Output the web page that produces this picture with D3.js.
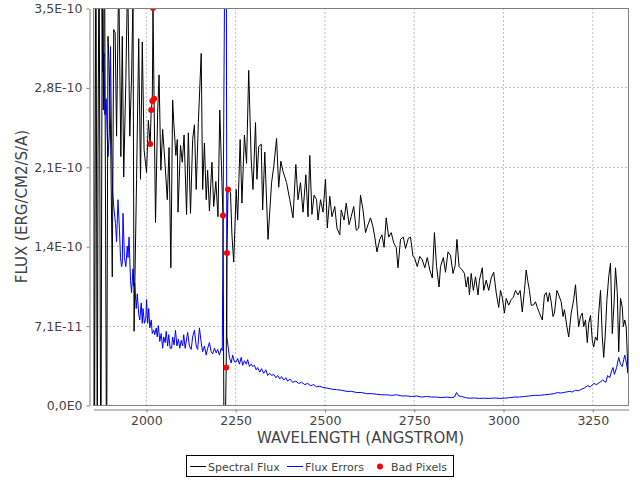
<!DOCTYPE html>
<html>
<head>
<meta charset="utf-8">
<script src="https://cdn.jsdelivr.net/npm/d3@7"></script>
<style>
  body { margin: 0; background: #fff; }
  svg { font-family: 'DejaVu Sans', sans-serif; }
</style>
</head>
<body>
<div id="chart"></div>
<script>
// values in units of 1e-10 erg/cm2/s/A, wavelength in angstrom
const FLUX_UNIT = 1e-10;

const spectralFlux = [
  [1853, 4.8], [1856, -0.8], [1860, 4.5], [1864, -0.6], [1866, 2.19], [1869, 4.2], [1874, -0.9],
  [1878, 3.9], [1881, 2.6], [1884, 4.3], [1890, -0.7], [1894, 3.25], [1897, 3.0], [1901, 2.43],
  [1906, 1.13], [1910, 3.31], [1914, 3.28], [1918, 2.37], [1924, 3.8], [1930, 2.19], [1934, 3.25],
  [1938, 2.01], [1944, 2.87], [1949, 3.8], [1955, 2.37], [1960, 2.9], [1964, 3.6], [1967, 0.65],
  [1974, 1.99], [1980, 3.23], [1985, 1.99], [1990, 3.2], [1995, 2.25], [2002, 2.05], [2007, 2.51],
  [2012, 2.30], [2015, 2.60], [2018, 2.68], [2020, 3.50], [2023, 2.70], [2027, 1.61], [2033, 2.58],
  [2037, 2.91], [2042, 2.07], [2047, 2.43], [2053, 2.16], [2060, 1.81], [2065, 2.27], [2070, 1.21],
  [2075, 2.69], [2078, 2.5], [2084, 2.2], [2088, 2.34], [2090, 1.7], [2097, 2.29], [2102, 2.14],
  [2107, 2.38], [2114, 1.68], [2119, 2.4], [2125, 1.69], [2131, 2.34], [2136, 2.47], [2141, 1.9],
  [2147, 2.49], [2155, 3.1], [2159, 1.9], [2164, 2.31], [2169, 1.81], [2173, 2.07], [2178, 1.71],
  [2185, 2.14], [2190, 1.75], [2196, 1.97], [2202, 1.66], [2207, 2.6], [2213, 1.96], [2216, 1.67],
  [2219, -0.5], [2222, -0.3], [2225, 0.33], [2227, 1.34], [2230, 1.90], [2237, 1.87], [2241, 1.5],
  [2246, 1.26], [2253, 1.9], [2257, 1.63], [2264, 2.34], [2269, 1.78], [2276, 2.38], [2282, 2.13],
  [2288, 2.95], [2295, 2.16], [2300, 1.9], [2307, 2.49], [2311, 1.99], [2316, 2.28], [2323, 2.3],
  [2327, 1.72], [2333, 2.23], [2342, 1.46], [2352, 1.96], [2358, 2.10], [2366, 2.35], [2372, 1.92],
  [2378, 2.15], [2384, 2.06], [2394, 1.96], [2403, 1.81], [2412, 1.65], [2420, 2.12], [2426, 1.81],
  [2433, 1.96], [2440, 1.70], [2448, 2.03], [2454, 1.66], [2459, 2.20], [2465, 1.68], [2471, 1.85],
  [2478, 1.81], [2482, 1.63], [2489, 1.81], [2496, 1.70], [2503, 1.99], [2508, 1.56], [2515, 1.84],
  [2521, 1.66], [2529, 1.75], [2535, 1.56], [2543, 1.50], [2547, 1.72], [2555, 1.63], [2561, 1.78],
  [2569, 1.59], [2575, 1.66], [2582, 1.75], [2589, 1.54], [2596, 1.56], [2601, 1.85], [2608, 1.72],
  [2615, 1.52], [2622, 1.59], [2629, 1.65], [2636, 1.57], [2641, 1.48], [2647, 1.35], [2655, 1.46],
  [2661, 1.50], [2667, 1.39], [2673, 1.65], [2680, 1.48], [2687, 1.52], [2694, 1.43], [2701, 1.39],
  [2706, 1.21], [2713, 1.46], [2721, 1.48], [2727, 1.38], [2735, 1.47], [2741, 1.48], [2748, 1.31],
  [2752, 1.30], [2760, 1.22], [2767, 1.31], [2774, 1.28], [2781, 1.21], [2788, 1.30], [2795, 1.19],
  [2802, 1.12], [2808, 1.52], [2814, 1.22], [2821, 1.04], [2825, 1.22], [2833, 1.30], [2839, 1.17],
  [2846, 1.35], [2853, 1.32], [2860, 1.16], [2866, 1.23], [2871, 1.46], [2877, 1.22], [2886, 1.19],
  [2892, 1.16], [2897, 1.04], [2902, 1.13], [2906, 0.97], [2911, 1.16], [2917, 1.01], [2923, 1.13],
  [2930, 0.97], [2934, 1.10], [2942, 1.21], [2946, 1.01], [2953, 1.10], [2960, 1.01], [2967, 1.12],
  [2974, 1.17], [2981, 0.99], [2988, 0.86], [2993, 1.01], [2998, 0.95], [3004, 0.81], [3009, 0.94],
  [3016, 0.88], [3023, 0.93], [3029, 0.95], [3035, 1.01], [3042, 0.97], [3048, 1.01], [3054, 0.82],
  [3060, 1.01], [3065, 1.19], [3069, 1.10], [3074, 1.01], [3079, 0.88], [3085, 0.88], [3091, 0.91],
  [3096, 0.86], [3102, 0.81], [3110, 0.75], [3116, 0.97], [3121, 0.99], [3126, 0.91], [3130, 0.99],
  [3135, 0.91], [3140, 0.78], [3144, 0.81], [3151, 1.01], [3156, 0.97], [3163, 0.91], [3168, 0.78],
  [3172, 0.84], [3179, 0.69], [3184, 0.60], [3191, 0.81], [3198, 0.93], [3203, 1.06], [3208, 0.84],
  [3212, 0.69], [3217, 0.78], [3222, 0.81], [3226, 0.69], [3231, 0.75], [3236, 0.55], [3240, 0.72],
  [3245, 0.79], [3250, 0.57], [3254, 0.51], [3259, 0.60], [3264, 0.57], [3268, 0.81], [3273, 1.01],
  [3278, 0.60], [3282, 0.42], [3286, 0.60], [3291, 0.93], [3296, 1.13], [3301, 1.25], [3306, 0.63],
  [3311, 0.90], [3315, 1.21], [3320, 0.99], [3324, 0.47], [3329, 0.94], [3334, 0.86], [3337, 0.69],
  [3341, 0.75], [3345, 0.69], [3350, 0.28]
];

const fluxErrors = [
  [1853, 6.0], [1863, 5.5], [1871, 4.8], [1876, 3.9], [1879, 2.94], [1883, 3.1], [1885, 2.56],
  [1889, 2.7], [1892, 2.35], [1894, 2.19], [1898, 2.4], [1901, 3.16], [1904, 2.3], [1907, 1.88],
  [1910, 1.75], [1915, 1.6], [1918, 1.44], [1922, 1.81], [1926, 1.55], [1929, 1.3], [1932, 1.22],
  [1934, 1.25], [1936, 1.69], [1940, 1.3], [1944, 1.22], [1948, 1.4], [1950, 1.3], [1953, 1.48],
  [1957, 1.1], [1960, 0.99], [1964, 1.2], [1966, 1.05], [1969, 1.07], [1973, 0.85], [1976, 0.98],
  [1980, 0.8], [1983, 0.75], [1987, 0.9], [1990, 0.72], [1992, 0.85], [1996, 0.72], [2000, 0.76],
  [2002, 0.93], [2005, 0.72], [2008, 0.85], [2011, 0.68], [2015, 0.75], [2018, 0.63], [2022, 0.66],
  [2025, 0.62], [2029, 0.68], [2032, 0.6], [2035, 0.7], [2039, 0.56], [2043, 0.63], [2047, 0.5],
  [2050, 0.6], [2054, 0.55], [2057, 0.65], [2061, 0.52], [2064, 0.62], [2068, 0.5], [2072, 0.5],
  [2075, 0.6], [2079, 0.53], [2083, 0.66], [2087, 0.52], [2091, 0.58], [2095, 0.5], [2099, 0.57],
  [2103, 0.52], [2106, 0.62], [2110, 0.5], [2115, 0.6], [2117, 0.64], [2122, 0.52], [2127, 0.49],
  [2131, 0.6], [2136, 0.66], [2141, 0.52], [2145, 0.49], [2150, 0.68], [2155, 0.55], [2159, 0.47],
  [2164, 0.52], [2169, 0.44], [2173, 0.5], [2178, 0.55], [2183, 0.47], [2187, 0.45], [2192, 0.5],
  [2197, 0.46], [2201, 0.49], [2206, 0.44], [2211, 0.5], [2214, 0.48], [2222, 4.5], [2225, 4.5],
  [2227, 0.6], [2234, 0.42], [2239, 0.37], [2243, 0.44], [2248, 0.38], [2253, 0.38], [2257, 0.41],
  [2262, 0.36], [2267, 0.42], [2271, 0.35], [2276, 0.39], [2281, 0.36], [2285, 0.4], [2290, 0.34],
  [2295, 0.36], [2299, 0.34], [2304, 0.35], [2309, 0.31], [2313, 0.33], [2319, 0.29], [2324, 0.32],
  [2330, 0.28], [2336, 0.31], [2341, 0.26], [2347, 0.28], [2352, 0.26], [2358, 0.27], [2364, 0.24],
  [2369, 0.26], [2375, 0.23], [2380, 0.25], [2386, 0.22], [2392, 0.24], [2397, 0.21], [2403, 0.23],
  [2411, 0.2], [2420, 0.21], [2428, 0.19], [2436, 0.2], [2445, 0.18], [2453, 0.19], [2462, 0.17],
  [2470, 0.18], [2478, 0.16], [2487, 0.165], [2495, 0.155], [2506, 0.15], [2520, 0.14], [2534, 0.135],
  [2548, 0.13], [2563, 0.12], [2576, 0.12], [2590, 0.11], [2604, 0.11], [2618, 0.10], [2632, 0.10],
  [2646, 0.095], [2660, 0.09], [2674, 0.09], [2688, 0.085], [2702, 0.09], [2716, 0.08], [2730, 0.08],
  [2744, 0.075], [2758, 0.08], [2772, 0.07], [2786, 0.075], [2800, 0.07], [2814, 0.07], [2828, 0.065],
  [2842, 0.07], [2856, 0.065], [2864, 0.07], [2870, 0.11], [2876, 0.08], [2884, 0.075], [2895, 0.065],
  [2906, 0.06], [2920, 0.062], [2934, 0.058], [2948, 0.06], [2962, 0.058], [2976, 0.062], [2990, 0.058],
  [3004, 0.06], [3018, 0.065], [3032, 0.07], [3046, 0.07], [3060, 0.075], [3074, 0.08], [3088, 0.085],
  [3102, 0.085], [3116, 0.09], [3130, 0.095], [3144, 0.1], [3152, 0.11], [3161, 0.105], [3169, 0.11],
  [3178, 0.115], [3186, 0.12], [3194, 0.115], [3203, 0.13], [3211, 0.125], [3220, 0.14], [3228, 0.15],
  [3237, 0.17], [3245, 0.16], [3254, 0.19], [3262, 0.18], [3271, 0.2], [3279, 0.22], [3288, 0.2],
  [3293, 0.26], [3299, 0.24], [3304, 0.3], [3308, 0.33], [3312, 0.27], [3318, 0.33], [3324, 0.42],
  [3329, 0.36], [3334, 0.34], [3338, 0.4], [3341, 0.44], [3346, 0.36], [3350, 0.28]
];

const badPixels = [
  [2012, 2.30], [2015, 2.60], [2018, 2.68], [2020, 3.50], [2023, 2.70],
  [2216, 1.67], [2225, 0.33], [2227, 1.34], [2230, 1.90]
];

const waveDomain = [1852, 3350];
const xTicks = [2000, 2250, 2500, 2750, 3000, 3250];
const yTicks = [0, 0.7, 1.4, 2.1, 2.8, 3.5];
const yTickLabels = ['0,0E0', '7,1E-11', '1,4E-10', '2,1E-10', '2,8E-10', '3,5E-10'];
const legendItems = ['Spectral Flux', 'Flux Errors', 'Bad Pixels'];

///////// Initialization //////////
const margin = { top: 8, right: 12, bottom: 75, left: 93 };
const width = 640 - margin.left - margin.right;
const height = 480 - margin.top - margin.bottom;

const svg = d3
  .select('#chart')
  .append('svg')
  .attr('width', 640)
  .attr('height', 480);

const group = svg
  .append('g')
  .attr('transform', 'translate(' + margin.left + ',' + margin.top + ')');

const xScale = d3.scaleLinear().domain(waveDomain).range([0, width]);
const yScale = d3.scaleLinear().domain([0, 3.5]).range([height, 0]);

// clip for the plot area
group
  .append('clipPath')
  .attr('id', 'clip')
  .append('rect')
  .attr('width', width)
  .attr('height', height);

// grid lines
group
  .append('g')
  .selectAll('line.vgrid')
  .data(xTicks)
  .enter()
  .append('line')
  .attr('x1', (d) => xScale(d) + 0.5)
  .attr('x2', (d) => xScale(d) + 0.5)
  .attr('y1', 0)
  .attr('y2', height)
  .attr('stroke', '#c0c0c0')
  .attr('stroke-dasharray', '2,2');

group
  .append('g')
  .selectAll('line.hgrid')
  .data(yTicks)
  .enter()
  .append('line')
  .attr('x1', 0)
  .attr('x2', width)
  .attr('y1', (d) => Math.round(yScale(d)) + 0.5)
  .attr('y2', (d) => Math.round(yScale(d)) + 0.5)
  .attr('stroke', '#c0c0c0')
  .attr('stroke-dasharray', '2,2');

// lines
const line = d3
  .line()
  .x((d) => xScale(d[0]))
  .y((d) => yScale(d[1]));

const plot = group.append('g').attr('clip-path', 'url(#clip)');

plot
  .append('path')
  .datum(fluxErrors)
  .attr('fill', 'none')
  .attr('stroke', '#0000ff')
  .attr('stroke-width', 1)
  .attr('d', line);

plot
  .append('path')
  .datum(spectralFlux)
  .attr('fill', 'none')
  .attr('stroke', '#000000')
  .attr('stroke-width', 1)
  .attr('d', line);

plot
  .selectAll('circle')
  .data(badPixels)
  .enter()
  .append('circle')
  .attr('cx', (d) => xScale(d[0]))
  .attr('cy', (d) => yScale(d[1]))
  .attr('r', 3)
  .attr('fill', '#ff0000');

// plot outline
group
  .append('rect')
  .attr('x', 0.5)
  .attr('y', 0.5)
  .attr('width', width)
  .attr('height', height)
  .attr('fill', 'none')
  .attr('stroke', '#808080');

// axes
const xAxis = d3
  .axisBottom(xScale)
  .tickValues(xTicks)
  .tickFormat(d3.format('d'))
  .tickSize(3)
  .tickSizeOuter(0)
  .tickPadding(4);
const yAxis = d3
  .axisLeft(yScale)
  .tickValues(yTicks)
  .tickFormat((d, i) => yTickLabels[i])
  .tickSize(3)
  .tickSizeOuter(0)
  .tickPadding(4);

const xAxisGroup = group
  .append('g')
  .attr('transform', 'translate(0.5,' + (height + 4.5) + ')')
  .call(xAxis);

const yAxisGroup = group
  .append('g')
  .attr('transform', 'translate(-3.5,0.5)')
  .call(yAxis);

[xAxisGroup, yAxisGroup].forEach((g) => {
  g.select('.domain').attr('stroke', '#808080');
  g.selectAll('.tick line').attr('stroke', '#808080');
  g.selectAll('.tick text')
    .attr('fill', '#444444')
    .style('font-size', '12.5px')
    .style('font-family', "'DejaVu Sans', sans-serif");
});

// axis titles
svg
  .append('text')
  .attr('x', margin.left + width / 2)
  .attr('y', 443)
  .attr('text-anchor', 'middle')
  .attr('fill', '#444444')
  .style('font-size', '15px')
  .text('WAVELENGTH (ANGSTROM)');

svg
  .append('text')
  .attr('transform', 'translate(27,' + (margin.top + height / 2) + ') rotate(-90)')
  .attr('text-anchor', 'middle')
  .attr('fill', '#444444')
  .style('font-size', '15px')
  .text('FLUX (ERG/CM2/S/A)');

////// Legend /////
const legend = svg.append('g');
legend
  .append('rect')
  .attr('x', 186.5)
  .attr('y', 455.5)
  .attr('width', 267)
  .attr('height', 21)
  .attr('fill', '#ffffff')
  .attr('stroke', '#000000');

const legendX = [190, 287, 376];
const legendColors = ['#000000', '#0000ff', '#ff0000'];

legendItems.forEach((name, i) => {
  if (i < 2) {
    legend
      .append('line')
      .attr('x1', legendX[i])
      .attr('x2', legendX[i] + 16)
      .attr('y1', 466.5)
      .attr('y2', 466.5)
      .attr('stroke', legendColors[i]);
  } else {
    legend
      .append('circle')
      .attr('cx', legendX[i] + 4)
      .attr('cy', 466.5)
      .attr('r', 3)
      .attr('fill', legendColors[i]);
  }
  legend
    .append('text')
    .attr('x', legendX[i] + (i < 2 ? 18 : 15))
    .attr('y', 470.5)
    .attr('fill', '#444444')
    .style('font-size', '11px')
    .text(name);
});
</script>
</body>
</html>
